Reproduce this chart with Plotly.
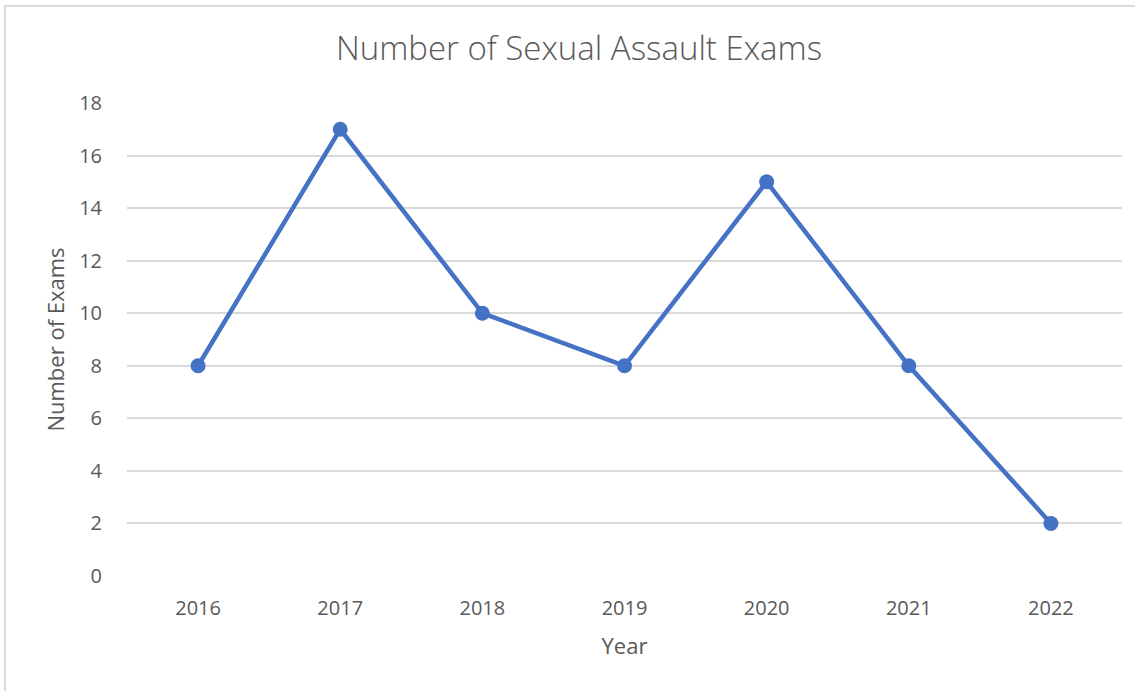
import plotly.graph_objects as go

years = ["2016", "2017", "2018", "2019", "2020", "2021", "2022"]
exams = [8, 17, 10, 8, 15, 8, 2]

FONT = "Open Sans"
GREY = "#595959"

L, T, PW, PH = 127, 103, 995, 473

fig = go.Figure()
fig.add_trace(go.Scatter(
    x=years, y=exams, mode="lines+markers",
    line=dict(color="#4472C4", width=4.5),
    marker=dict(color="#4472C4", size=15),
    showlegend=False,
))

fig.update_layout(
    width=1145, height=691,
    margin=dict(l=L, r=1145 - L - PW, t=T, b=691 - T - PH),
    paper_bgcolor="white", plot_bgcolor="white",
    title=dict(text="Number of Sexual Assault Exams", x=579/1145, xanchor="center",
               y=1-48/691, yanchor="middle",
               font=dict(family=FONT, size=33, color=GREY, weight=300)),
    xaxis=dict(type="category", range=[-0.5, 6.5], showgrid=False, zeroline=False, showline=False,
               ticks="outside", ticklen=14, tickcolor="rgba(0,0,0,0)",
               tickfont=dict(family=FONT, size=20, color=GREY),
               title=dict(text="Year", font=dict(family=FONT, size=22, color=GREY), standoff=18)),
    yaxis=dict(range=[0, 18], dtick=2, showgrid=True, gridcolor="#d9d9d9", gridwidth=1.5,
               zeroline=False, showline=False,
               ticks="outside", ticklen=20, tickcolor="rgba(0,0,0,0)",
               tickfont=dict(family=FONT, size=20, color=GREY),
               title=dict(text="Number of Exams", font=dict(family=FONT, size=22, color=GREY), standoff=8)),
    shapes=[
        dict(type="line", xref="paper", yref="paper", x0=-(L - 5) / PW, x1=(1135 - L) / PW,
             y0=1 + (T - 6) / PH, y1=1 + (T - 6) / PH, line=dict(color="#d9d9d9", width=2)),
        dict(type="line", xref="paper", yref="paper", x0=-(L - 5) / PW, x1=-(L - 5) / PW,
             y0=1 + (T - 5) / PH, y1=-130 / PH, line=dict(color="#d9d9d9", width=2)),
    ],
)

fig.write_html("out.html", config={"displayModeBar": False},
               post_script="document.body.style.margin='0px';")
